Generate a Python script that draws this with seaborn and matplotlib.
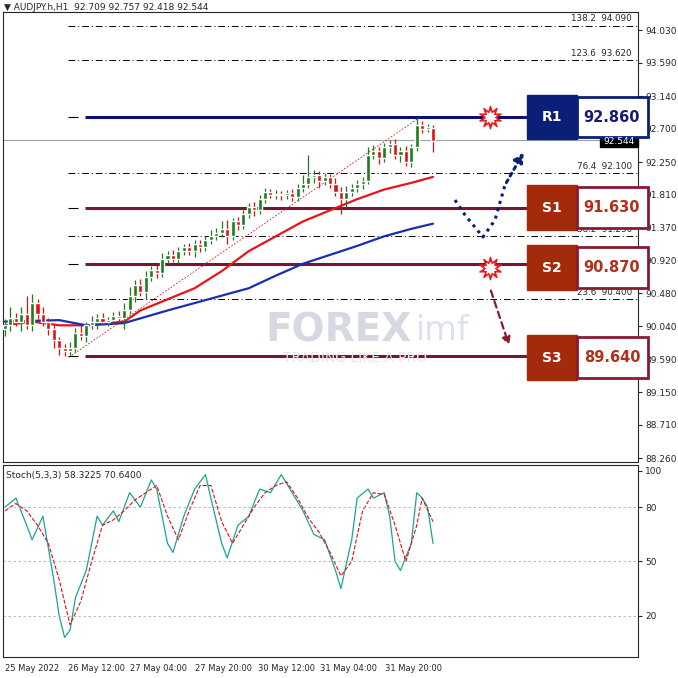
import numpy as np
import pandas as pd
import matplotlib
matplotlib.use("Agg")
import matplotlib.pyplot as plt
from matplotlib.patches import Rectangle, FancyArrowPatch
import seaborn as sns

sns.set_style("white")
plt.rcParams['font.family'] = ['DejaVu Sans']

closes = [90.05, 90.15, 90.10, 90.20, 90.05, 90.35, 90.20, 90.10, 90.00, 89.85, 89.75, 89.70,
          89.75, 89.95, 89.90, 90.05, 90.10, 90.15, 90.10, 90.12, 90.18, 90.15, 90.25, 90.45,
          90.60, 90.50, 90.70, 90.80, 90.75, 90.95, 91.00,
          90.95, 91.05, 91.10, 91.05, 91.15, 91.10, 91.20, 91.25,
          91.30, 91.35, 91.25, 91.45, 91.40, 91.55, 91.65, 91.60, 91.75,
          91.85, 91.80, 91.82, 91.80, 91.83, 91.78, 91.90, 91.95, 92.05,
          92.08, 92.00, 92.05, 91.95, 91.85, 91.75, 91.85,
          91.90, 91.95, 92.00, 92.35, 92.40, 92.30, 92.45,
          92.50, 92.35, 92.40, 92.25, 92.45, 92.75, 92.70, 92.72, 92.54]
opens = [90.00, 90.05, 90.15, 90.10, 90.20, 90.05, 90.35, 90.20, 90.10, 90.00, 89.85, 89.75,
         89.70, 89.75, 89.95, 89.90, 90.05, 90.10, 90.15, 90.10, 90.12, 90.18, 90.15, 90.25,
         90.45, 90.60, 90.50, 90.70, 90.80, 90.75, 90.95,
         91.00, 90.95, 91.05, 91.10, 91.05, 91.15, 91.10, 91.20,
         91.25, 91.30, 91.35, 91.25, 91.45, 91.40, 91.55, 91.65, 91.60,
         91.75, 91.85, 91.80, 91.82, 91.80, 91.83, 91.78, 91.90, 91.95,
         92.05, 92.08, 92.00, 92.05, 91.95, 91.85, 91.75,
         91.85, 91.90, 91.95, 92.00, 92.35, 92.40, 92.30,
         92.45, 92.50, 92.35, 92.40, 92.25, 92.45, 92.75, 92.70, 92.71]
wick_up = [0.08, 0.15, 0.06, 0.10, 0.25, 0.12, 0.05, 0.10, 0.05, 0.05, 0.04, 0.05,
           0.08, 0.06, 0.10, 0.05, 0.08, 0.05, 0.06, 0.04, 0.05, 0.06, 0.10, 0.12,
           0.06, 0.08, 0.08, 0.05, 0.06, 0.08, 0.05,
           0.06, 0.05, 0.05, 0.06, 0.05, 0.05, 0.06, 0.08,
           0.06, 0.10, 0.12, 0.05, 0.06, 0.06, 0.05, 0.06, 0.05,
           0.05, 0.04, 0.05, 0.04, 0.05, 0.06, 0.05, 0.12, 0.30,
           0.06, 0.05, 0.05, 0.04, 0.08, 0.06, 0.08,
           0.05, 0.06, 0.05, 0.10, 0.08, 0.05, 0.06,
           0.05, 0.06, 0.05, 0.06, 0.05, 0.10, 0.05, 0.04, 0.04]
wick_dn = [0.10, 0.08, 0.06, 0.12, 0.05, 0.08, 0.06, 0.06, 0.08, 0.10, 0.10, 0.06,
           0.05, 0.06, 0.05, 0.08, 0.05, 0.10, 0.05, 0.06, 0.05, 0.06, 0.15, 0.05,
           0.08, 0.06, 0.10, 0.05, 0.06, 0.05, 0.08,
           0.05, 0.06, 0.05, 0.05, 0.08, 0.06, 0.05, 0.06,
           0.05, 0.06, 0.10, 0.05, 0.06, 0.05, 0.05, 0.08, 0.05,
           0.05, 0.04, 0.05, 0.06, 0.05, 0.06, 0.05, 0.06, 0.05,
           0.08, 0.10, 0.06, 0.05, 0.06, 0.20, 0.10,
           0.06, 0.05, 0.06, 0.05, 0.06, 0.08, 0.05,
           0.08, 0.06, 0.10, 0.05, 0.06, 0.05, 0.06, 0.05, 0.15]

ma_red_i = [0, 5, 10, 15, 22, 25, 30, 35, 40, 45, 50, 55, 60, 65, 70, 75, 79]
ma_red = [90.05, 90.10, 90.05, 90.05, 90.10, 90.25, 90.40, 90.55, 90.78, 91.05, 91.25, 91.45, 91.60, 91.75, 91.88, 91.97, 92.05]
ma_blue_i = [0, 10, 15, 22, 30, 40, 45, 50, 55, 60, 65, 70, 75, 79]
ma_blue = [90.10, 90.12, 90.05, 90.08, 90.25, 90.45, 90.55, 90.72, 90.88, 91.00, 91.12, 91.25, 91.35, 91.42]

k_i = [0, 2, 4, 5, 7, 9, 10, 11, 12, 13, 15, 17, 18, 20, 21, 23, 25, 27, 28, 30, 31, 33, 35, 37, 38, 40, 41, 43, 45, 47, 49, 51, 53, 55, 57, 59, 61, 62, 64, 65, 67, 68, 70, 71, 72, 73, 75, 76, 77, 78, 79]
k_v = [80, 85, 70, 62, 75, 40, 20, 8, 12, 30, 45, 75, 70, 78, 72, 88, 80, 95, 90, 60, 55, 75, 90, 98, 85, 60, 52, 70, 75, 90, 88, 98, 88, 78, 65, 62, 45, 35, 62, 85, 90, 85, 88, 75, 50, 45, 60, 88, 85, 80, 60]
d_i = [0, 2, 4, 6, 8, 10, 12, 14, 16, 18, 20, 22, 24, 26, 28, 30, 32, 34, 36, 38, 40, 42, 44, 46, 48, 50, 52, 54, 56, 58, 60, 62, 64, 66, 68, 70, 72, 74, 76, 77, 79]
d_v = [78, 82, 78, 70, 60, 40, 15, 28, 50, 70, 73, 78, 84, 88, 92, 75, 62, 78, 92, 92, 72, 60, 70, 80, 88, 92, 94, 85, 74, 66, 55, 42, 50, 78, 88, 87, 70, 50, 70, 85, 72]

levels = {"R1": 92.860, "S1": 91.630, "S2": 90.870, "S3": 89.640}
fibs = [(94.090, "138.2"), (93.620, "123.6"), (92.100, "76.4"), (91.250, "38.2"), (90.400, "23.6")]
price_ticks = [94.030, 93.590, 93.140, 92.700, 92.250, 91.810, 91.370, 90.920, 90.480, 90.040, 89.590, 89.150, 88.710, 88.260]
stoch_ticks = [100, 80, 50, 20]
date_labels = ["25 May 2022", "26 May 12:00", "27 May 04:00", "27 May 20:00", "30 May 12:00", "31 May 04:00", "31 May 20:00"]
date_px = [5, 68, 130, 195, 258, 320, 385]
last_price = 92.544

W = H = 678
fig = plt.figure(figsize=(6.78, 6.78), dpi=100)
def rect(l, t, r, b):
    return [l / W, 1 - b / H, (r - l) / W, (b - t) / H]

N = len(closes)
S = (433 - 5) / (N - 1)
def px2i(x):
    return (x - 5) / S

ax = fig.add_axes(rect(3, 12, 638, 462))
axs = fig.add_axes(rect(3, 465, 638, 657))
for a in (ax, axs):
    a.set_xlim(px2i(3), px2i(638))
    for sp in a.spines.values():
        sp.set_linewidth(0.8)
ax.set_ylim(94.03 - 432 / 74.2, 94.03 + 18 / 74.2)
axs.set_ylim(-2.8, 103.3)

idx = np.arange(N)
o = np.array(opens); c = np.array(closes)
hi = np.maximum(o, c) + np.array(wick_up)
lo = np.minimum(o, c) - np.array(wick_dn)
up = c >= o
cols = np.where(up, "#1f7a1f", "#e01010")
ax.vlines(idx, lo, hi, colors=cols, linewidth=0.9, zorder=3)
ax.bar(idx, np.where(np.abs(c - o) < 0.015, 0.015, c - o), bottom=o, width=0.75, color=cols, zorder=4)

sns.lineplot(x=ma_red_i, y=ma_red, ax=ax, color="#e8141a", linewidth=1.6, zorder=2)
sns.lineplot(x=ma_blue_i, y=ma_blue, ax=ax, color="#1a2fb0", linewidth=1.6, zorder=2)
ax.plot([11.8, 76.5], [89.62, 92.85], color="#e01010", linestyle=(0, (2, 2)), linewidth=0.6)

for lv in levels.values():
    col = "#0a1070" if lv == levels["R1"] else "#7a1432"
    ax.hlines(lv, px2i(85), px2i(638), color=col, linewidth=2.2, zorder=1)
    ax.hlines(lv, px2i(68), px2i(78), color="black", linewidth=0.8)
for lv, lab in fibs:
    ax.hlines(lv, px2i(68), px2i(638), color="black", linewidth=0.7, linestyles=(0, (7, 3, 1, 3)), zorder=1)
    ax.text(px2i(632), lv + 0.03, f"{lab}  {lv:.3f}", ha="right", va="bottom", fontsize=6.3)
ax.axhline(last_price, color="#9aa0a6", linewidth=0.8, zorder=0)

ax.yaxis.tick_right()
ax.set_yticks(price_ticks)
ax.set_yticklabels([f"{t:.3f}" for t in price_ticks], fontsize=6.5)
ax.tick_params(axis="y", length=3, pad=2)
ax.set_xticks([])
ax.set_xlabel(""); ax.set_ylabel("")

sns.lineplot(x=k_i, y=k_v, ax=axs, color="#1aa39a", linewidth=0.9)
sns.lineplot(x=d_i, y=d_v, ax=axs, color="#e01010", linewidth=0.8, linestyle="--")
for t in [80, 50, 20]:
    axs.axhline(t, color="#b0b0b0", linewidth=0.6, linestyle=(0, (3, 3)))
axs.yaxis.tick_right()
axs.set_yticks(stoch_ticks)
axs.set_yticklabels([str(t) for t in stoch_ticks], fontsize=6.5)
axs.tick_params(axis="y", length=3, pad=2)
axs.set_xticks([px2i(p) for p in date_px])
axs.set_xticklabels(date_labels, fontsize=6, ha="left")
axs.tick_params(axis="x", length=3, pad=2)
axs.set_xlabel(""); axs.set_ylabel("")
axs.text(0.005, 0.97, "Stoch(5,3,3) 58.3225 70.6400", transform=axs.transAxes, fontsize=6.5, va="top")

ov = fig.add_axes([0, 0, 1, 1], zorder=10)
ov.set_xlim(0, W); ov.set_ylim(H, 0); ov.axis("off")
ov.text(4, 7, "▼ AUDJPY.h,H1  92.709 92.757 92.418 92.544", fontsize=6.5, va="center")
ov.text(412, 330, "FOREX", fontsize=28, fontweight="bold", color="#d6d9e2", ha="right", va="center", zorder=0)
ov.text(416, 330, "imf", fontsize=24, color="#dde2ee", ha="left", va="center", zorder=0)
ov.text(355, 358, "TRADING LIKE A PRO", fontsize=10, color="#e4e6ec", ha="center", va="center")
ov.add_patch(Rectangle((600, 136), 38, 11, color="black"))
ov.text(619, 141.5, "92.544", color="white", fontsize=6.5, ha="center", va="center")

boxes = [("R1", "92.860", 95, 139, "#0a1f78", "#0a1f78", "#16187a"),
         ("S1", "91.630", 185, 230, "#a32a0a", "#8a1a30", "#b0301a"),
         ("S2", "90.870", 245, 290, "#a32a0a", "#8a1a30", "#b0301a"),
         ("S3", "89.640", 335, 380, "#a32a0a", "#8a1a30", "#b0301a")]
for lab, val, t, b, fill, edge, tc in boxes:
    ov.add_patch(Rectangle((527, t), 50, b - t, facecolor=fill, edgecolor=fill))
    ov.add_patch(Rectangle((577, t + 2), 71, b - t - 4, facecolor="white", edgecolor=edge, linewidth=2))
    ov.text(552, (t + b) / 2, lab, color="white", fontsize=10, fontweight="bold", ha="center", va="center")
    ov.text(612, (t + b) / 2, val, color=tc, fontsize=10.5, fontweight="bold", ha="center", va="center")

ov.plot([455, 465, 483, 495, 505], [200, 215, 237, 220, 185], color="#0a1f78", linewidth=2.2, linestyle=(0, (1, 1.5)))
ov.add_patch(FancyArrowPatch((505, 185), (525, 150), arrowstyle="-|>", mutation_scale=14, color="#0a1f78", linewidth=2.2, linestyle=(0, (1, 1.5))))
ov.add_patch(FancyArrowPatch((490, 288), (510, 348), arrowstyle="-|>", mutation_scale=12, color="#8a1a30", linewidth=1.6, linestyle=(0, (3, 2))))
for yy in (117, 268):
    ov.scatter([490], [yy], marker=(10, 1, 0), s=260, color="#e81c1c", zorder=11)
    ov.scatter([490], [yy], marker=(10, 1, 0), s=70, color="white", zorder=12)

fig.savefig("out.png", dpi=100, facecolor="white")
